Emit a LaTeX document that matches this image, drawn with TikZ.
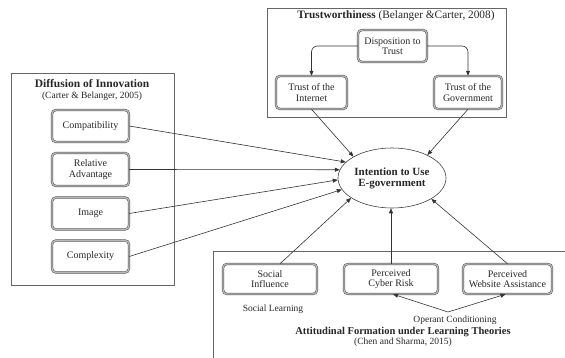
\documentclass[tikz,border=0pt]{standalone}
\usepackage{fontspec}
\setmainfont{Liberation Serif}
\usetikzlibrary{arrows.meta,shapes.geometric}
\begin{document}
\begin{tikzpicture}[x=1pt,y=-1pt,
  every node/.style={text=black!85},
  frame/.style={draw=black!60, line width=0.6pt},
  cbox/.style={draw=black!70, double=gray!55, double distance=1.4pt, line width=0.45pt,
    rounded corners=4pt, align=center, inner sep=1pt, font=\fontsize{10}{10.5}\selectfont},
  conn/.style={draw=black!80, line width=0.6pt, -{Triangle[length=5pt,width=4pt]}},
  ttl/.style={font=\fontsize{11.5}{12}\selectfont\bfseries},
  cite/.style={font=\fontsize{9.5}{10}\selectfont},
  lbl/.style={font=\fontsize{9.5}{10}\selectfont}
]
\useasboundingbox (0,0) rectangle (565,358);
% frames
\draw[frame] (11,73) rectangle (174,285);
\draw[frame] (267,8) rectangle (506,117);
\draw[frame] (565,251) -- (213,251) -- (213,360);
% left group
\node[ttl] (dtitle) at (92,84) {Diffusion of Innovation};
\node[cite] (dcite) at (92,96) {(Carter \& Belanger, 2005)};
\node[cbox, minimum width=77pt, minimum height=32pt] (comp) at (90.5,126) {Compatibility};
\node[cbox, minimum width=77pt, minimum height=33pt] (rel) at (90.5,169.5) {Relative\\Advantage};
\node[cbox, minimum width=77pt, minimum height=32pt] (img) at (90.5,213.5) {Image};
\node[cbox, minimum width=77pt, minimum height=32pt] (cplx) at (90.5,256.5) {Complexity};
% top group
\node[font=\fontsize{11.3}{12}\selectfont] (ttitle) at (396,16) {\textbf{Trustworthiness} (Belanger \&Carter, 2008)};
\node[cbox, minimum width=69pt, minimum height=32pt] (disp) at (392.5,46) {Disposition to\\Trust};
\node[cbox, minimum width=71pt, minimum height=33pt] (inet) at (311.5,92.5) {Trust of the\\Internet};
\node[cbox, minimum width=68pt, minimum height=33pt] (gov) at (468,92.5) {Trust of the\\Government};
% centre
\node[draw=black!75, line width=0.6pt, ellipse, minimum width=108pt, minimum height=60pt,
  align=center, inner sep=0pt, font=\fontsize{11}{11}\selectfont\bfseries] (ell) at (392,178)
  {Intention to Use\\E-government};
% bottom group
\node[cbox, minimum width=94pt, minimum height=30pt] (si) at (270,279) {Social\\Influence};
\node[cbox, minimum width=94pt, minimum height=30pt] (cyber) at (391,279) {Perceived\\Cyber Risk};
\node[cbox, minimum width=89pt, minimum height=30pt] (web) at (507.5,279) {Perceived\\Website Assistance};
\node[lbl] (sl) at (273,309) {Social Learning};
\node[lbl] (oc) at (455,320) {Operant Conditioning};
\node[font=\fontsize{10.5}{11}\selectfont\bfseries] (atitle) at (403,332) {Attitudinal Formation under Learning Theories};
\node[cite] (acite) at (403,342) {(Chen and Sharma, 2015)};
\coordinate (ocp) at (448,312);
% connectors
\draw[conn, rounded corners=6pt] (disp.west) -| (inet.north);
\draw[conn, rounded corners=6pt] (disp.east) -| (gov.north);
\draw[conn] (inet.south) -- (ell.151);
\draw[conn] (gov.south) -- (ell.33);
\draw[conn] (comp.east) -- (ell.161);
\draw[conn] (rel.east) -- (ell.171);
\draw[conn] (img.east) -- (ell.182);
\draw[conn] (cplx.east) -- (ell.193);
\draw[conn] ([xshift=10pt]si.north) -- (ell.206);
\draw[conn] (cyber.north) -- (cyber.north |- ell.south);
\draw[conn] (web.north) -- (ell.332);
\draw[draw=black!80, line width=0.6pt, {Triangle[length=5pt,width=4pt]}-{Triangle[length=5pt,width=4pt]}]
  ([xshift=2pt]cyber.south) -- (ocp) -- ([xshift=-2pt]web.south);
\end{tikzpicture}
\end{document}
